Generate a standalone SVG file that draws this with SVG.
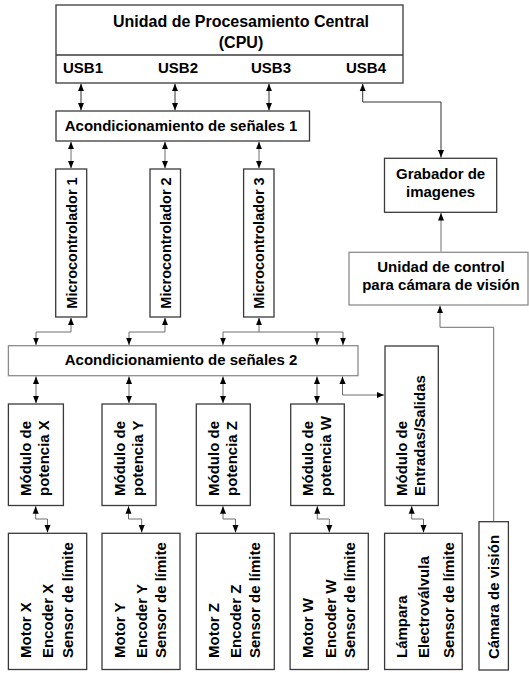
<svg xmlns="http://www.w3.org/2000/svg" width="529" height="673" viewBox="0 0 529 673">
<defs>
<marker id="ah" viewBox="0 0 10 10" refX="10" refY="5" markerWidth="7.5" markerHeight="7.5" markerUnits="userSpaceOnUse" orient="auto-start-reverse">
<path d="M0,1 L10,5 L0,9 z" fill="#000"/>
</marker>
<style>
.box{fill:#fff;stroke:#3a3a3a;stroke-width:1.3}
.lbox{fill:#fff;stroke:#8c8c8c;stroke-width:1.3}
.t{font-family:"Liberation Sans",Arial,sans-serif;font-weight:bold;font-size:15px;fill:#000}
.c{text-anchor:middle}
.cn{fill:none;stroke:#6e6e6e;stroke-width:1}
.cd{fill:none;stroke:#333;stroke-width:1}
.bi{marker-start:url(#ah);marker-end:url(#ah)}
.en{marker-end:url(#ah)}
</style>
</defs>
<rect width="529" height="673" fill="#fff"/>

<g id="cpu">
<rect class="box" x="56" y="5" width="347" height="78"/>
<line x1="56" y1="55" x2="403" y2="55" stroke="#3a3a3a" stroke-width="1.3"/>
<text class="t c" x="241" y="27" style="font-size:16px">Unidad de Procesamiento Central</text>
<text class="t c" x="241" y="48" style="font-size:16px">(CPU)</text>
<text class="t c" x="83" y="73">USB1</text>
<text class="t c" x="178" y="73">USB2</text>
<text class="t c" x="271" y="73">USB3</text>
<text class="t c" x="366" y="73">USB4</text>
</g>

<g id="acond1">
<rect class="box" x="56" y="111" width="253.5" height="30"/>
<text class="t c" x="181" y="131">Acondicionamiento de señales 1</text>
</g>

<g id="micro1">
<rect class="box" x="55.7" y="169" width="31" height="148"/>
<text class="t c" transform="translate(76.5,243) rotate(-90)" style="font-size:14.5px">Microcontrolador 1</text>
</g>
<g id="micro2">
<rect class="box" x="150" y="169" width="30.5" height="148"/>
<text class="t c" transform="translate(170.5,243) rotate(-90)" style="font-size:14.5px">Microcontrolador 2</text>
</g>
<g id="micro3">
<rect class="box" x="243.6" y="169" width="30.4" height="148"/>
<text class="t c" transform="translate(264,243) rotate(-90)" style="font-size:14.5px">Microcontrolador 3</text>
</g>

<g id="acond2">
<rect class="lbox" x="8.4" y="345.7" width="349.6" height="30"/>
<text class="t c" x="181" y="365">Acondicionamiento de señales 2</text>
</g>

<g id="grabador">
<rect class="box" x="384.5" y="158.3" width="112.2" height="54"/>
<text class="t c" x="440.6" y="179">Grabador de</text>
<text class="t c" x="440.6" y="197">imagenes</text>
</g>

<g id="unidad">
<rect class="lbox" x="349" y="252.3" width="179" height="52.7"/>
<text class="t c" x="441" y="271.5">Unidad de control</text>
<text class="t c" x="441" y="290">para cámara de visión</text>
</g>

<g id="modX">
<rect class="box" x="8.4" y="404" width="55" height="101.5"/>
<text class="t" transform="translate(31,496) rotate(-90)">Módulo de</text>
<text class="t" transform="translate(49,496) rotate(-90)">potencia X</text>
</g>
<g id="modY">
<rect class="box" x="102" y="404" width="54" height="101.5"/>
<text class="t" transform="translate(124.5,496) rotate(-90)">Módulo de</text>
<text class="t" transform="translate(142.5,496) rotate(-90)">potencia Y</text>
</g>
<g id="modZ">
<rect class="box" x="196.3" y="404" width="54" height="101.5"/>
<text class="t" transform="translate(218.8,496) rotate(-90)">Módulo de</text>
<text class="t" transform="translate(236.8,496) rotate(-90)">potencia Z</text>
</g>
<g id="modW">
<rect class="box" x="290.7" y="404" width="53.6" height="101.5"/>
<text class="t" transform="translate(313,496) rotate(-90)">Módulo de</text>
<text class="t" transform="translate(331,496) rotate(-90)">potencia W</text>
</g>
<g id="modIO">
<rect class="box" x="385" y="346" width="53.3" height="159.5"/>
<text class="t" transform="translate(406.5,496) rotate(-90)">Módulo de</text>
<text class="t" transform="translate(424.5,496) rotate(-90)">Entradas/Salidas</text>
</g>

<g id="dispX">
<rect class="box" x="8.4" y="533.3" width="78.3" height="136.2"/>
<text class="t" transform="translate(31,658) rotate(-90)">Motor X</text>
<text class="t" transform="translate(53,658) rotate(-90)">Encoder X</text>
<text class="t" transform="translate(72.5,658) rotate(-90)">Sensor de límite</text>
</g>
<g id="dispY">
<rect class="box" x="102" y="533.3" width="78" height="136.2"/>
<text class="t" transform="translate(125,658) rotate(-90)">Motor Y</text>
<text class="t" transform="translate(147,658) rotate(-90)">Encoder Y</text>
<text class="t" transform="translate(166,658) rotate(-90)">Sensor de límite</text>
</g>
<g id="dispZ">
<rect class="box" x="196.3" y="533.3" width="78" height="136.2"/>
<text class="t" transform="translate(219,658) rotate(-90)">Motor Z</text>
<text class="t" transform="translate(241,658) rotate(-90)">Encoder Z</text>
<text class="t" transform="translate(260,658) rotate(-90)">Sensor de límite</text>
</g>
<g id="dispW">
<rect class="box" x="290.1" y="533.3" width="78.2" height="136.2"/>
<text class="t" transform="translate(312.5,658) rotate(-90)">Motor W</text>
<text class="t" transform="translate(335.5,658) rotate(-90)">Encoder W</text>
<text class="t" transform="translate(354.5,658) rotate(-90)">Sensor de límite</text>
</g>
<g id="dispIO">
<rect class="box" x="384.6" y="533.3" width="77.6" height="136.2"/>
<text class="t" transform="translate(406.5,658) rotate(-90)">Lámpara</text>
<text class="t" transform="translate(428.5,658) rotate(-90)">Electroválvula</text>
<text class="t" transform="translate(453.7,658) rotate(-90)">Sensor de límite</text>
</g>

<g id="camara">
<rect class="box" x="479" y="521.7" width="29.4" height="148.3"/>
<text class="t c" transform="translate(499,597) rotate(-90)">Cámara de visión</text>
</g>

<g id="connectors">
<path class="cd bi" d="M81,83.7 V110.4"/>
<path class="cd bi" d="M175,83.7 V110.4"/>
<path class="cd bi" d="M269,83.7 V110.4"/>
<path class="cd bi" d="M362.7,83.7 V102 H441 V157.6"/>
<path class="cn bi" d="M71,141.7 V168.4"/>
<path class="cn bi" d="M165,141.7 V168.4"/>
<path class="cn bi" d="M259,141.7 V168.4"/>
<path class="cn bi" d="M71,317.7 V332 H36 V345"/>
<path class="cn bi" d="M165,317.7 V332 H129 V345"/>
<path class="cn bi" d="M259,317.7 V332 H223 V345"/>
<path class="cn" d="M259,332 H343"/>
<path class="cn en" d="M317,332 V345"/>
<path class="cn en" d="M343,332 V345"/>
<path class="cn bi" d="M36,376.4 V403.3"/>
<path class="cn bi" d="M129,376.4 V403.3"/>
<path class="cn bi" d="M223,376.4 V403.3"/>
<path class="cn bi" d="M317,376.4 V403.3"/>
<path class="cn bi" d="M342.5,376.4 V395 H384.3"/>
<path class="cn bi" d="M35.7,506.2 V519 H47.5 V532.6"/>
<path class="cn bi" d="M128.5,506.2 V519 H141.7 V532.6"/>
<path class="cn bi" d="M223,506.2 V519 H235.5 V532.6"/>
<path class="cn bi" d="M317.3,506.2 V519 H329.3 V532.6"/>
<path class="cn bi" d="M411.7,506.2 V519 H423.5 V532.6"/>
<path class="cn en" d="M441,251.6 V213"/>
<path class="cn en" d="M493.7,521 V327.3 H440 V305.7"/>
</g>
</svg>
